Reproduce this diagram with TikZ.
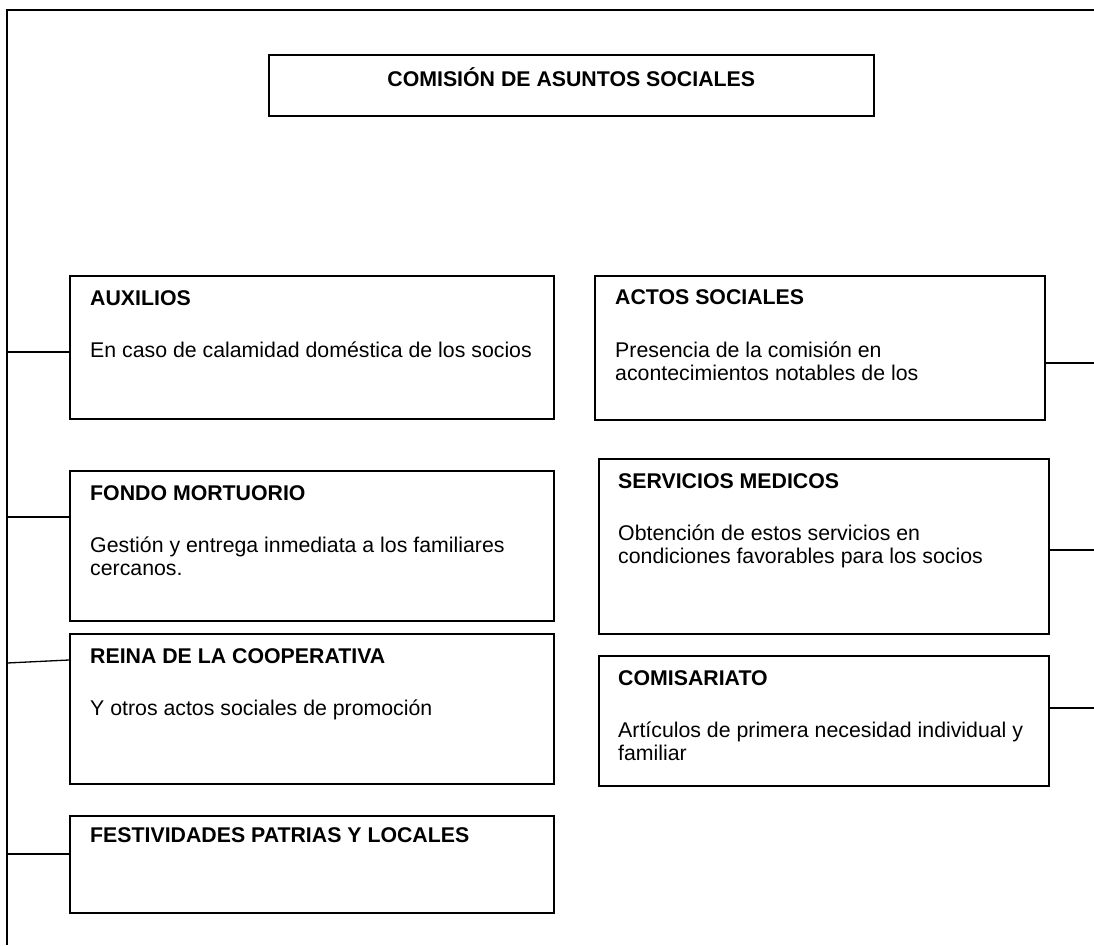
\documentclass[tikz,border=0pt]{standalone}
\usepackage{fontspec}
\setmainfont{Liberation Sans}
\begin{document}
\begin{tikzpicture}[x=1pt,y=-1pt,
  box/.style={draw=black, line width=1.5pt, rectangle, inner sep=0pt, anchor=north west},
  head/.style={font=\fontsize{21.3}{23}\selectfont\bfseries, anchor=base west, inner sep=0pt},
  body/.style={font=\fontsize{21.3}{23}\selectfont, anchor=north west, inner sep=0pt, align=left},
  link/.style={draw=black, line width=1.3pt}]
\useasboundingbox (0,0) rectangle (1094,945);

% boxes
\node[box, minimum width=605pt, minimum height=61pt] (title) at (268,54) {};
\node[box, minimum width=484pt, minimum height=143pt] (aux) at (69,275) {};
\node[box, minimum width=450pt, minimum height=144pt] (actos) at (594,275) {};
\node[box, minimum width=484pt, minimum height=150pt] (fondo) at (69,470) {};
\node[box, minimum width=450pt, minimum height=175pt] (serv) at (598,458) {};
\node[box, minimum width=484pt, minimum height=150pt] (reina) at (69,633) {};
\node[box, minimum width=450pt, minimum height=130pt] (comis) at (598,655) {};
\node[box, minimum width=484pt, minimum height=97pt] (fest) at (69,815) {};

% texts
\node[font=\fontsize{21.3}{23}\selectfont\bfseries, anchor=base, inner sep=0pt] (ttitle)
  at ([shift={(0,32)}]title.north) {COMISIÓN DE ASUNTOS SOCIALES};

\node[head] (haux) at ([shift={(21,30)}]aux.north west) {AUXILIOS};
\node[body] (baux) at ([shift={(21,66)}]aux.north west) {\strut En caso de calamidad doméstica de los socios};

\node[head] (hactos) at ([shift={(21,29)}]actos.north west) {ACTOS SOCIALES};
\node[body] (bactos) at ([shift={(21,66)}]actos.north west) {\strut Presencia de la comisión en\\acontecimientos notables de los};

\node[head] (hfondo) at ([shift={(21,30)}]fondo.north west) {FONDO MORTUORIO};
\node[body] (bfondo) at ([shift={(21,66)}]fondo.north west) {\strut Gestión y entrega inmediata a los familiares\\cercanos.};

\node[head] (hserv) at ([shift={(20,30)}]serv.north west) {SERVICIOS MEDICOS};
\node[body] (bserv) at ([shift={(20,66)}]serv.north west) {\strut Obtención de estos servicios en\\condiciones favorables para los socios};

\node[head] (hreina) at ([shift={(21,30)}]reina.north west) {REINA DE LA COOPERATIVA};
\node[body] (breina) at ([shift={(21,66)}]reina.north west) {\strut Y otros actos sociales de promoción};

\node[head] (hcomis) at ([shift={(20,30)}]comis.north west) {COMISARIATO};
\node[body] (bcomis) at ([shift={(20,66)}]comis.north west) {\strut Artículos de primera necesidad individual y\\familiar};

\node[head] (hfest) at ([shift={(21,27)}]fest.north west) {FESTIVIDADES PATRIAS Y LOCALES};

% frame / trunk
\coordinate (tr) at (1094,10);
\coordinate (tl) at (7,10);
\coordinate (bl) at (7,945);
\draw[link] (tr) -- (tl) -- (bl);

% left connectors
\coordinate (la) at (7,352);
\coordinate (lf) at (7,517);
\coordinate (lr) at (7,663);
\coordinate (lv) at (7,854);
\draw[link] (la) -- (la -| aux.west);
\draw[link] (lf) -- (lf -| fondo.west);
\draw[link] (lr) -- ([shift={(0,27)}]reina.north west);
\draw[link] (lv) -- (lv -| fest.west);

% right connectors
\coordinate (ra) at (1094,363);
\coordinate (rs) at (1094,550);
\coordinate (rc) at (1094,708);
\draw[link] (actos.east |- ra) -- (ra);
\draw[link] (serv.east |- rs) -- (rs);
\draw[link] (comis.east |- rc) -- (rc);
\end{tikzpicture}
\end{document}
